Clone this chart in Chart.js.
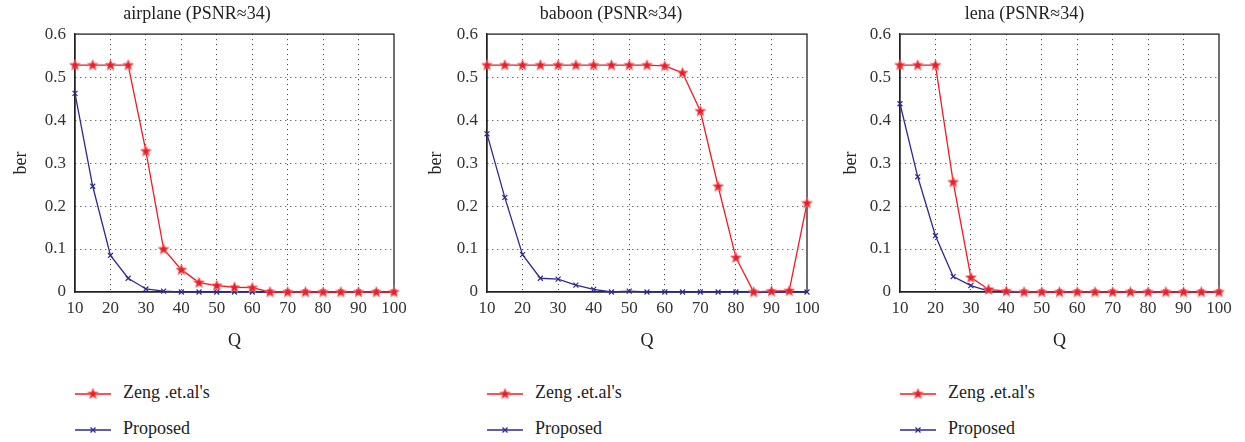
<!DOCTYPE html>
<html>
<head>
<meta charset="utf-8">
<script src="https://cdn.jsdelivr.net/npm/chart.js@4.4.1/dist/chart.umd.min.js"></script>
<style>
  body { margin: 0; background: #fff; width: 1245px; height: 442px; position: relative; overflow: hidden; font-family: "Liberation Serif", serif; }
  canvas.plot { position: absolute; top: 0; }
  .leg { position: absolute; font-size: 18px; color: #222; white-space: nowrap; line-height: 20px; }
  .leg canvas { vertical-align: middle; margin-right: 12px; }
</style>
</head>
<body>
<canvas id="c1" class="plot" width="415" height="360" style="left:0px"></canvas>
<canvas id="c2" class="plot" width="415" height="360" style="left:415px"></canvas>
<canvas id="c3" class="plot" width="415" height="360" style="left:830px"></canvas>
<div id="legends"></div>
<script>
// Q values (x axis)
const Q = [10, 15, 20, 25, 30, 35, 40, 45, 50, 55, 60, 65, 70, 75, 80, 85, 90, 95, 100];

// ber for each image
const airplaneZeng = [0.528, 0.528, 0.528, 0.528, 0.328, 0.100, 0.052, 0.022, 0.015, 0.011, 0.010, 0, 0, 0, 0, 0, 0, 0, 0];
const airplaneProposed = [0.462, 0.246, 0.085, 0.032, 0.007, 0.002, 0, 0, 0, 0, 0, 0, 0, 0, 0, 0, 0, 0, 0];

const baboonZeng = [0.528, 0.528, 0.528, 0.528, 0.528, 0.528, 0.528, 0.528, 0.528, 0.528, 0.526, 0.510, 0.421, 0.246, 0.080, 0, 0.002, 0.003, 0.207];
const baboonProposed = [0.368, 0.220, 0.087, 0.032, 0.030, 0.016, 0.006, 0, 0.002, 0, 0, 0, 0, 0, 0, 0, 0, 0, 0];

const lenaZeng = [0.528, 0.528, 0.528, 0.256, 0.034, 0.006, 0.002, 0, 0, 0, 0, 0, 0, 0, 0, 0, 0, 0, 0];
const lenaProposed = [0.438, 0.268, 0.131, 0.036, 0.015, 0.002, 0, 0, 0, 0, 0, 0, 0, 0, 0, 0, 0, 0, 0];

const panelTitles = ['airplane (PSNR\u224834)', 'baboon (PSNR\u224834)', 'lena (PSNR\u224834)'];
const seriesNames = ["Zeng .et.al's", 'Proposed'];

const RED = '#ee1c24';
const BLUE = '#2e2a8e';
const FONT = '"Liberation Serif", serif';
Chart.defaults.font.family = FONT;

// filled five point star used as the Zeng marker
function starImage() {
  const c = document.createElement('canvas');
  c.width = 13; c.height = 13;
  const g = c.getContext('2d');
  g.beginPath();
  for (let i = 0; i < 10; i++) {
    const r = i % 2 === 0 ? 5.8 : 2.5;
    const a = -Math.PI / 2 + i * Math.PI / 5;
    g.lineTo(6.5 + r * Math.cos(a), 6.8 + r * Math.sin(a));
  }
  g.closePath();
  g.fillStyle = RED;
  g.fill();
  g.strokeStyle = 'rgba(245,130,130,0.75)';
  g.lineWidth = 1;
  g.stroke();
  return c;
}
const star = starImage();

// box around the plot area
const framePlugin = {
  id: 'frame',
  beforeDatasetsDraw(chart) {
    const a = chart.chartArea, g = chart.ctx;
    g.save();
    g.strokeStyle = '#222';
    g.lineWidth = 1.3;
    g.strokeRect(a.left, a.top, a.right - a.left, a.bottom - a.top);
    g.restore();
  }
};

function makeChart(id, title, zeng, proposed, leftW, rightPad) {
  const toPts = arr => Q.map((q, i) => ({ x: q, y: arr[i] }));
  const dotted = ctx => (ctx.tick && (ctx.index === 0 || ctx.tick.value === 0.6 || ctx.tick.value === 100 || ctx.tick.value === 10)) ? 'rgba(0,0,0,0)' : '#333';
  return new Chart(document.getElementById(id), {
    type: 'line',
    data: {
      datasets: [
        { label: seriesNames[0], data: toPts(zeng), borderColor: RED, backgroundColor: RED, borderWidth: 1.3,
          pointStyle: star, pointRadius: 6, tension: 0 },
        { label: seriesNames[1], data: toPts(proposed), borderColor: BLUE, backgroundColor: BLUE, borderWidth: 1.3,
          pointStyle: 'crossRot', pointRadius: 3.5, pointBorderWidth: 1.2, tension: 0 }
      ]
    },
    options: {
      responsive: false,
      animation: false,
      devicePixelRatio: 1,
      clip: false,
      layout: { padding: { left: 0, right: rightPad, top: 0, bottom: 0 } },
      plugins: {
        legend: { display: false },
        tooltip: { enabled: false },
        title: { display: true, text: title, color: '#222', font: { family: FONT, size: 18, weight: 'normal' },
                 padding: { top: 3, bottom: 9.5 } }
      },
      scales: {
        x: {
          type: 'linear', min: 10, max: 100,
          ticks: { stepSize: 10, color: '#333', font: { family: FONT, size: 17 }, padding: 6, maxRotation: 0 },
          grid: { color: dotted, lineWidth: 1, drawTicks: false },
          border: { display: true, color: '#222', width: 1.3, dash: [1, 4] },
          title: { display: true, text: 'Q', color: '#222', font: { family: FONT, size: 18 }, padding: { top: 8, bottom: 8 } },
          afterFit(s) { s.height = 68; }
        },
        y: {
          min: 0, max: 0.6,
          ticks: { stepSize: 0.1, color: '#333', font: { family: FONT, size: 17 }, padding: 9 },
          grid: { color: dotted, lineWidth: 1, drawTicks: false },
          border: { display: true, color: '#222', width: 1.3, dash: [1, 4] },
          title: { display: true, text: 'ber', color: '#222', font: { family: FONT, size: 18 }, padding: { top: 10, bottom: 10 } },
          afterFit(s) { s.width = leftW; }
        }
      }
    },
    plugins: [framePlugin]
  });
}

const charts = [
  makeChart('c1', panelTitles[0], airplaneZeng, airplaneProposed, 75, 21),
  makeChart('c2', panelTitles[1], baboonZeng, baboonProposed, 72, 23),
  makeChart('c3', panelTitles[2], lenaZeng, lenaProposed, 70, 26)
];

// legends under each panel, lined up with the plot area's left edge
const offsets = [0, 415, 830];
const legendBox = document.getElementById('legends');
charts.forEach((ch, k) => {
  const left = offsets[k] + ch.chartArea.left;
  ch.data.datasets.forEach((ds, j) => {
    const row = document.createElement('div');
    row.className = 'leg';
    row.style.left = left + 'px';
    row.style.top = (j === 0 ? 382 : 418) + 'px';
    const m = document.createElement('canvas');
    m.width = 36; m.height = 16;
    const g = m.getContext('2d');
    g.strokeStyle = ds.borderColor; g.lineWidth = 1.3;
    g.beginPath(); g.moveTo(0, 8); g.lineTo(36, 8); g.stroke();
    if (j === 0) {
      g.drawImage(star, 18 - 6.5, 8 - 6.8);
    } else {
      g.beginPath();
      g.moveTo(15.5, 5.5); g.lineTo(20.5, 10.5);
      g.moveTo(20.5, 5.5); g.lineTo(15.5, 10.5);
      g.stroke();
    }
    row.appendChild(m);
    row.appendChild(document.createTextNode(ds.label));
    legendBox.appendChild(row);
  });
});
</script>
</body>
</html>
